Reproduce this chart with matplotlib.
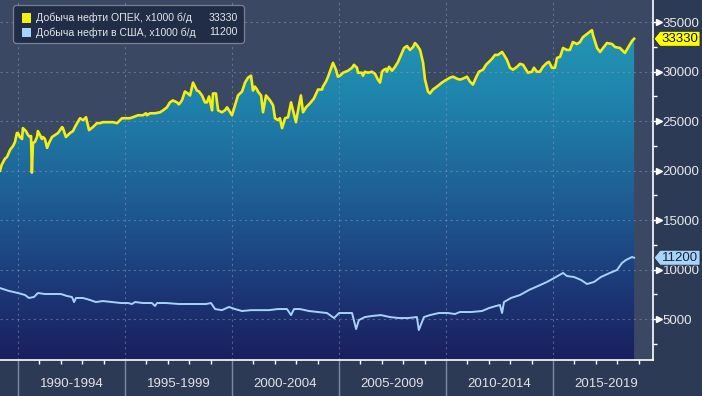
import numpy as np
import matplotlib
matplotlib.use("Agg")
import matplotlib.pyplot as plt
import matplotlib.transforms as mtransforms
from matplotlib.patches import FancyBboxPatch, Rectangle, Polygon
from matplotlib.colors import LinearSegmentedColormap
from matplotlib.ticker import FixedLocator, FuncFormatter

plt.rcParams['font.family'] = ['Liberation Sans', 'DejaVu Sans']

# ---------------- data ----------------
opec_t = [1989.16, 1989.24, 1989.39, 1989.49, 1989.63, 1989.77, 1989.86, 1989.95, 1990.00, 1990.09,
          1990.19, 1990.23, 1990.37, 1990.47, 1990.56, 1990.61, 1990.65, 1990.70, 1990.79, 1990.89,
          1990.93, 1991.03, 1991.12, 1991.17, 1991.26, 1991.36, 1991.45, 1991.59, 1991.73, 1991.87,
          1992.06, 1992.10, 1992.24, 1992.43, 1992.57, 1992.66, 1992.76, 1992.90, 1993.04, 1993.13,
          1993.18, 1993.32, 1993.50, 1993.69, 1993.83, 1993.97, 1994.16, 1994.30, 1994.44, 1994.63,
          1994.77, 1994.86, 1995.09, 1995.23, 1995.37, 1995.61, 1995.84, 1995.98, 1996.03, 1996.17,
          1996.40, 1996.64, 1996.78, 1996.96, 1997.10, 1997.24, 1997.43, 1997.52, 1997.66, 1997.80,
          1997.94, 1998.04, 1998.18, 1998.36, 1998.46, 1998.60, 1998.74, 1998.83, 1998.93, 1999.07,
          1999.11, 1999.25, 1999.35, 1999.53, 1999.67, 1999.77, 1999.86, 2000.00, 2000.14, 2000.28,
          2000.47, 2000.61, 2000.75, 2000.89, 2000.98, 2001.07, 2001.17, 2001.21, 2001.36, 2001.45,
          2001.59, 2001.78, 2001.92, 2002.01, 2002.15, 2002.24, 2002.34, 2002.48, 2002.62, 2002.76,
          2002.85, 2002.99, 2003.13, 2003.22, 2003.32, 2003.46, 2003.64, 2003.83, 2004.02, 2004.21,
          2004.25, 2004.39, 2004.49, 2004.62, 2004.72, 2004.86, 2004.95, 2005.05, 2005.19, 2005.42,
          2005.61, 2005.70, 2005.84, 2005.89, 2006.07, 2006.12, 2006.21, 2006.36, 2006.54, 2006.68,
          2006.82, 2006.92, 2007.01, 2007.10, 2007.20, 2007.24, 2007.34, 2007.48, 2007.62, 2007.76,
          2007.90, 2008.04, 2008.18, 2008.32, 2008.46, 2008.55, 2008.64, 2008.79, 2008.93, 2009.02,
          2009.16, 2009.25, 2009.39, 2009.58, 2009.81, 2009.95, 2010.19, 2010.33, 2010.51, 2010.65,
          2010.79, 2010.98, 2011.12, 2011.26, 2011.40, 2011.54, 2011.73, 2011.87, 2012.01, 2012.15,
          2012.29, 2012.43, 2012.62, 2012.71, 2012.85, 2012.99, 2013.13, 2013.32, 2013.46, 2013.60,
          2013.74, 2013.83, 2014.02, 2014.11, 2014.25, 2014.39, 2014.53, 2014.72, 2014.81, 2014.95,
          2015.09, 2015.19, 2015.33, 2015.47, 2015.65, 2015.79, 2015.93, 2016.12, 2016.26, 2016.40,
          2016.64, 2016.82, 2016.87, 2017.06, 2017.20, 2017.34, 2017.52, 2017.76, 2017.90, 2018.13,
          2018.36, 2018.50, 2018.69, 2018.79]
opec_v = [20000, 20600, 21200, 21400, 22100, 22500, 22900, 23800, 23800, 23400,
          23200, 24300, 24000, 23600, 23400, 23500, 19800, 22800, 22900, 23400,
          24000, 23600, 23200, 23400, 23200, 22300, 22800, 23400, 23600, 23800,
          24400, 24300, 23400, 23800, 24000, 24400, 24800, 25300, 25100, 25300,
          25400, 24100, 24400, 24800, 24800, 24900, 24900, 24900, 24900, 24800,
          25100, 25300, 25300, 25300, 25400, 25600, 25600, 25800, 25600, 25800,
          25800, 25900, 26100, 26400, 26900, 27100, 26900, 26700, 27100, 28000,
          27800, 27600, 28900, 28100, 28000, 27600, 26900, 26900, 27500, 26100,
          27800, 27800, 26100, 25900, 26100, 26400, 26100, 25600, 26600, 27600,
          28000, 28900, 29400, 29600, 28100, 28500, 28200, 28000, 27600, 25900,
          27600, 27100, 26600, 25300, 25100, 25300, 24300, 25300, 25400, 26900,
          26100, 24900, 26600, 27600, 25900, 26400, 26800, 27300, 28200, 28200,
          28500, 29000, 29500, 30300, 30900, 30200, 29500, 29600, 29900, 30100,
          30400, 30700, 30400, 29900, 29900, 29600, 30000, 29900, 30000, 29800,
          29200, 28900, 30000, 30200, 30300, 30000, 30500, 30100, 30500, 31000,
          31700, 32400, 32600, 32200, 32500, 32900, 32700, 32200, 30900, 29200,
          28000, 27800, 28200, 28500, 28900, 29100, 29400, 29500, 29300, 29200,
          29300, 29500, 29000, 28700, 29400, 30000, 30200, 30700, 31000, 31300,
          31700, 31700, 32000, 31700, 31200, 30400, 30200, 30500, 30800, 30700,
          30200, 29900, 30000, 30400, 30000, 30000, 30500, 30900, 31000, 30400,
          30400, 31400, 31500, 32400, 32200, 32200, 33000, 32800, 33000, 33500,
          33900, 34200, 33700, 32400, 32000, 32400, 32900, 32800, 32500, 32400,
          31900, 32400, 33100, 33330]

us_t = [1989.16, 1989.58, 1990.00, 1990.33, 1990.51, 1990.75, 1990.93, 1991.26, 1991.68, 1992.01,
        1992.29, 1992.52, 1992.62, 1992.71, 1993.04, 1993.36, 1993.64, 1993.97, 1994.39, 1994.81,
        1995.14, 1995.33, 1995.47, 1995.84, 1996.26, 1996.40, 1996.50, 1996.92, 1997.52, 1998.18,
        1998.79, 1999.02, 1999.21, 1999.53, 1999.86, 2000.14, 2000.47, 2000.89, 2001.31, 2001.73,
        2002.15, 2002.57, 2002.76, 2002.90, 2003.18, 2003.60, 2004.02, 2004.44, 2004.77, 2005.00,
        2005.28, 2005.61, 2005.80, 2005.93, 2006.21, 2006.54, 2006.96, 2007.38, 2007.80, 2008.22,
        2008.64, 2008.73, 2008.97, 2009.25, 2009.67, 2010.09, 2010.42, 2010.65, 2011.17, 2011.68,
        2012.01, 2012.34, 2012.52, 2012.62, 2012.71, 2013.04, 2013.46, 2013.88, 2014.30, 2014.72,
        2015.14, 2015.47, 2015.65, 2015.98, 2016.31, 2016.59, 2016.92, 2017.24, 2017.66, 2017.99,
        2018.22, 2018.41, 2018.69, 2018.79]
us_v = [8130, 7840, 7630, 7430, 7130, 7230, 7630, 7530, 7530, 7530,
        7330, 7230, 6720, 7130, 7130, 6930, 6720, 6820, 6720, 6620,
        6620, 6520, 6720, 6620, 6620, 6320, 6620, 6620, 6520, 6520,
        6520, 6620, 6010, 5900, 6220, 6010, 5810, 5900, 5900, 5900,
        6010, 6010, 5400, 6010, 6010, 5810, 5710, 5610, 5100, 5610,
        5610, 5610, 3990, 4900, 5200, 5310, 5400, 5200, 5100, 5100,
        5200, 3890, 5200, 5400, 5610, 5610, 5510, 5710, 5710, 5810,
        6110, 6320, 6420, 5610, 6720, 7130, 7430, 7940, 8340, 8750,
        9250, 9660, 9350, 9250, 8950, 8540, 8750, 9250, 9660, 9960,
        10660, 10970, 11270, 11200]

series_names = ["Добыча нефти ОПЕК, x1000 б/д", "Добыча нефти в США, x1000 б/д"]
last_values = [33330, 11200]
period_labels = ["1990-1994", "1995-1999", "2000-2004", "2005-2009", "2010-2014", "2015-2019"]
period_mid = [1992.5, 1997.5, 2002.5, 2007.5, 2012.5, 2017.5]
period_bounds = [1990, 1995, 2000, 2005, 2010, 2015]
year_ticks = list(range(1990, 2020))
y_ticks = [5000, 10000, 15000, 20000, 25000, 30000, 35000]
y_minor = [2500, 7500, 12500, 17500, 22500, 27500, 32500]

# ---------------- styling ----------------
W, H = 702, 396
XMIN, XMAX = 1989.16, 2019.65
YMIN, YMAX = 860, 37250
OPEC_C = '#f4ef12'
US_C = '#a6d3fb'

fig = plt.figure(figsize=(W / 100, H / 100), dpi=100, facecolor='#2c3a56')
ax = fig.add_axes([0, 36 / H, 652.5 / W, 360 / H])
ax.set_facecolor('#3b4864')
P = mtransforms.Affine2D().scale(1 / W, -1 / H).translate(0, 1) + fig.transFigure

# gradient fill under OPEC line
cmap = LinearSegmentedColormap.from_list('g', [
    (0.00, '#1a1f5e'), (0.17, '#1c3474'), (0.44, '#1e5c93'),
    (0.72, '#1f83ab'), (0.88, '#2292b2'), (1.00, '#259bb9')])
grad = np.linspace(0, 1, 512).reshape(-1, 1)
poly = ax.fill_between(opec_t, YMIN, opec_v, facecolor='none', edgecolor='none')
im = ax.imshow(grad, extent=[XMIN, XMAX, YMIN, YMAX], origin='lower', aspect='auto',
               cmap=cmap, zorder=1, interpolation='bilinear')
im.set_clip_path(poly.get_paths()[0], transform=ax.transData)

ax.plot(us_t, us_v, color=US_C, lw=1.4, zorder=3, solid_joinstyle='round')
ax.plot(opec_t, opec_v, color=OPEC_C, lw=1.9, zorder=4, solid_joinstyle='round')

# axes / ticks
for s in ['left', 'top']:
    ax.spines[s].set_visible(False)
for s in ['bottom', 'right']:
    ax.spines[s].set_color('white')
    ax.spines[s].set_linewidth(1.2)

ax.xaxis.set_major_locator(FixedLocator(period_bounds))
ax.xaxis.set_minor_locator(FixedLocator(year_ticks))
ax.tick_params(axis='x', which='major', length=26, width=1, color='#7d8aa2', labelbottom=False)
ax.tick_params(axis='x', which='minor', length=3, width=1, color='white')

ax.yaxis.tick_right()
ax.yaxis.set_major_locator(FixedLocator(y_ticks))
ax.yaxis.set_minor_locator(FixedLocator(y_minor))
ax.yaxis.set_major_formatter(FuncFormatter(lambda v, p: f"{int(v)}"))
ax.tick_params(axis='y', which='major', length=3.6, width=1, color='white',
               labelcolor='#e8e8e8', labelsize=9.5, pad=3.6)
ax.tick_params(axis='y', which='minor', length=3, width=1, color='white')

ax.grid(axis='both', which='major', color='#8e9cb6', alpha=0.5,
        linestyle=(0, (2, 3)), linewidth=0.8)

ax.set_xlim(XMIN, XMAX)
ax.set_ylim(YMIN, YMAX)

# arrow heads on major y ticks
tri_tr = mtransforms.offset_copy(ax.get_yaxis_transform(), fig=fig, x=6.0, y=0, units='dots')
ax.plot([1.0] * len(y_ticks), y_ticks, ls='none', marker='>', ms=4.5, color='white',
        mec='white', transform=tri_tr, clip_on=False, zorder=5)

# period labels
for lab, m in zip(period_labels, period_mid):
    ax.text(m, -24 / 360, lab, transform=ax.get_xaxis_transform(), ha='center', va='center',
            fontsize=9.5, color='#e2e2e2')

# value tags on right
for v, fc, tc in [(last_values[0], '#ffff00', '#111111'), (last_values[1], '#a9d4fa', '#16243c')]:
    yf = fig.transFigure.inverted().transform(ax.transData.transform((XMIN, v)))[1]
    yp = (1 - yf) * H
    tag = Polygon([(654, yp), (660, yp - 7.5), (700, yp - 7.5), (700, yp + 7.5), (660, yp + 7.5)],
                  closed=True, transform=P, facecolor=fc, edgecolor='#20283a', lw=0.6, zorder=6)
    fig.add_artist(tag)
    fig.text(680, yp, str(v), transform=P, ha='center', va='center', fontsize=9.5, color=tc, zorder=7)

# legend
box = FancyBboxPatch((13.5, 5.5), 231, 38, boxstyle='round,pad=0,rounding_size=3', transform=P,
                     facecolor='#212c46', edgecolor='#7a8092', lw=0.9, zorder=6)
fig.add_artist(box)
for i, (name, val, c) in enumerate(zip(series_names, last_values, [OPEC_C, US_C])):
    yc = 17.8 + i * 14.6
    fig.add_artist(Rectangle((21.5, yc - 4.8), 9.5, 9.5, transform=P, facecolor=c,
                             edgecolor='none', zorder=7))
    fig.text(35.5, yc, name, transform=P, ha='left', va='center', fontsize=7.6,
             color='#e6e6e6', zorder=8)
    fig.text(238, yc, str(val), transform=P, ha='right', va='center', fontsize=7.6,
             color='#e6e6e6', zorder=8)

fig.savefig('out.png', dpi=100, facecolor=fig.get_facecolor())
